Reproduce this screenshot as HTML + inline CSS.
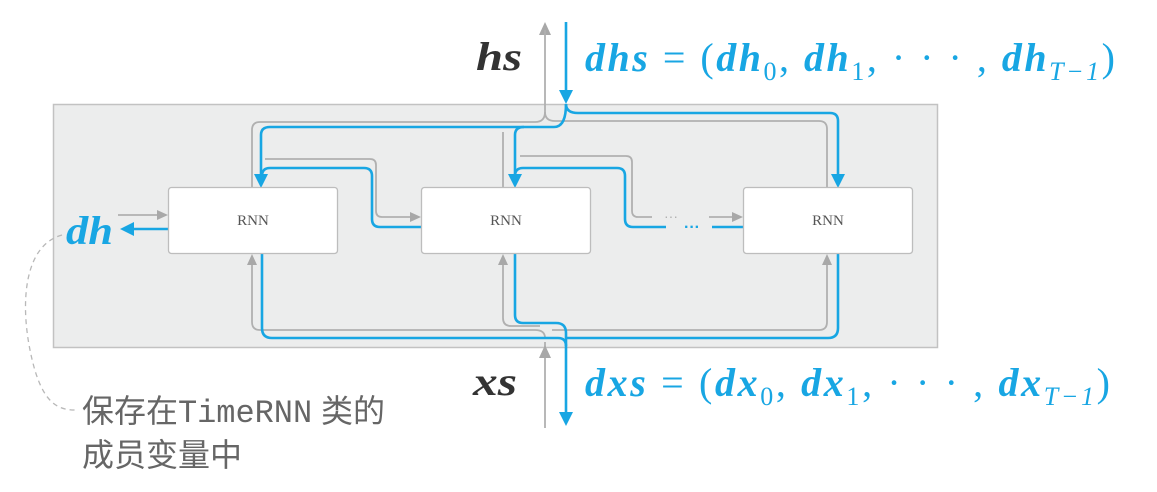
<!DOCTYPE html>
<html><head><meta charset="utf-8"><style>
html,body{margin:0;padding:0;background:#fff;}
svg{display:block;}
.b{fill:none;stroke:#18a6e3;stroke-width:2.6;}
.g{fill:none;stroke:#b0b0b0;stroke-width:1.8;}
.m{font-family:"Liberation Serif",serif;font-style:italic;font-weight:bold;font-size:40px;}
</style></head><body>
<svg width="1157" height="492" viewBox="0 0 1157 492" xmlns="http://www.w3.org/2000/svg">
<rect x="53.5" y="104.5" width="884" height="243" fill="#eceded" stroke="#c2c2c2" stroke-width="1.5"/>
<!-- gray paths -->
<path class="g" d="M545 100 V112 Q545 122 535 122 H260 Q252 122 252 130 V187"/>
<path class="g" d="M545 112 Q545 121 555 121 H819 Q827 121 827 129 V187"/>
<path class="g" d="M503 187 V132"/>
<path class="g" d="M265 159 H370 Q376 159 376 165 V211 Q376 217 382 217 H412"/>
<polygon points="421,217 410,212 410,222" fill="#a8a8a8"/>
<path class="g" d="M520 156 H626 Q632 156 632 162 V211 Q632 217 638 217 H652"/>
<text x="671" y="221" font-family="Liberation Sans" font-size="14" fill="#b0b0b0" text-anchor="middle">···</text>
<path class="g" d="M709 217 H734"/>
<polygon points="743,217 732,212 732,222" fill="#a8a8a8"/>
<path class="g" d="M118 215 H158"/>
<polygon points="168,215 157,210 157,220" fill="#a8a8a8"/>
<path class="g" d="M545 428 V342 M545 338 Q545 330 535 330 H260 Q252 330 252 322 V262"/>
<polygon points="252,254 247,265 257,265" fill="#a8a8a8"/>
<path class="g" d="M503 262 V318 Q503 326 511 326 H540"/>
<polygon points="503,254 498,265 508,265" fill="#a8a8a8"/>
<path class="g" d="M552 330 H819 Q827 330 827 322 V262"/>
<polygon points="827,254 822,265 832,265" fill="#a8a8a8"/>
<polygon points="545,345 539,358 551,358" fill="#a8a8a8"/>
<polygon points="545,22 539,35 551,35" fill="#a8a8a8"/>
<path class="g" d="M545 30 V100"/>
<!-- blue paths -->
<path class="b" d="M566 22 V92"/>
<polygon points="566,104 559,90 573,90" fill="#18a6e3"/>
<path class="b" d="M566 104 Q566 113 578 113 H830 Q838 113 838 121 V176"/>
<polygon points="838,188 831,174 845,174" fill="#18a6e3"/>
<path class="b" d="M566 104 Q566 127 554 127 H270 Q261 127 261 135 V176"/>
<polygon points="261,188 254,174 268,174" fill="#18a6e3"/>
<path class="b" d="M524 127 Q515 127 515 135 V176"/>
<polygon points="515,188 508,174 522,174" fill="#18a6e3"/>
<path class="b" d="M421 227 H380 Q372 227 372 219 V176 Q372 168 364 168 H270 Q262 168 262 176"/>
<path class="b" d="M666 227 H633 Q625 227 625 219 V176 Q625 168 617 168 H523 Q515 168 515 176"/>
<text x="692" y="232" font-family="Liberation Sans" font-weight="bold" font-size="16" fill="#18a6e3" text-anchor="middle">···</text>
<path class="b" d="M712 227 H743"/>
<path class="b" d="M168 229 H132"/>
<polygon points="120,229 134,222 134,236" fill="#18a6e3"/>
<path class="b" d="M262 254 V328 Q262 338 272 338 H558 Q566 338 566 346 V414"/>
<polygon points="566,426 559,412 573,412" fill="#18a6e3"/>
<path class="b" d="M515 254 V315 Q515 323 523 323 H556 Q566 323 566 333 V346"/>
<path class="b" d="M838 254 V328 Q838 338 828 338 H566"/>
<!-- boxes -->
<rect x="168.5" y="187.5" width="169" height="66" rx="3" fill="#fff" stroke="#bdbdbd" stroke-width="1.3"/>
<rect x="421.5" y="187.5" width="169" height="66" rx="3" fill="#fff" stroke="#bdbdbd" stroke-width="1.3"/>
<rect x="743.5" y="187.5" width="169" height="66" rx="3" fill="#fff" stroke="#bdbdbd" stroke-width="1.3"/>
<g font-family="Liberation Serif" font-size="15" fill="#555" text-anchor="middle">
<text x="253" y="225">RNN</text><text x="506" y="225">RNN</text><text x="828" y="225">RNN</text></g>
<!-- labels -->
<text class="m" x="476" y="70" fill="#333" textLength="46" lengthAdjust="spacingAndGlyphs">hs</text>
<text class="m" x="585" y="71" fill="#18a6e3" textLength="530">dhs <tspan font-style="normal" font-weight="normal">= (</tspan>dh<tspan font-size="26" font-style="normal" font-weight="normal" dy="9">0</tspan><tspan dy="-9" font-style="normal" font-weight="normal">, </tspan>dh<tspan font-size="26" font-style="normal" font-weight="normal" dy="9">1</tspan><tspan dy="-9" font-style="normal" font-weight="normal">, · · · , </tspan>dh<tspan font-size="26" font-style="italic" font-weight="normal" dy="9">T−1</tspan><tspan dy="-9" font-style="normal" font-weight="normal">)</tspan></text>
<text class="m" x="473" y="395" fill="#333" textLength="44" lengthAdjust="spacingAndGlyphs">xs</text>
<text class="m" x="585" y="396" fill="#18a6e3" textLength="525">dxs <tspan font-style="normal" font-weight="normal">= (</tspan>dx<tspan font-size="26" font-style="normal" font-weight="normal" dy="9">0</tspan><tspan dy="-9" font-style="normal" font-weight="normal">, </tspan>dx<tspan font-size="26" font-style="normal" font-weight="normal" dy="9">1</tspan><tspan dy="-9" font-style="normal" font-weight="normal">, · · · , </tspan>dx<tspan font-size="26" font-style="italic" font-weight="normal" dy="9">T−1</tspan><tspan dy="-9" font-style="normal" font-weight="normal">)</tspan></text>
<text class="m" x="66" y="244" fill="#18a6e3" textLength="47" lengthAdjust="spacingAndGlyphs">dh</text>
<path d="M62 235 C25 245 20 300 30 350 C40 400 55 410 75 410" fill="none" stroke="#b8b8b8" stroke-width="1.3" stroke-dasharray="5,4"/>
<g font-family="Liberation Sans,'Noto Sans CJK SC',sans-serif" font-size="32" fill="#666">
<text x="82" y="422" textLength="303">保存在<tspan font-family="Liberation Mono,monospace">TimeRNN</tspan> 类的</text>
<text x="82" y="466">成员变量中</text></g>
</svg>
</body></html>
